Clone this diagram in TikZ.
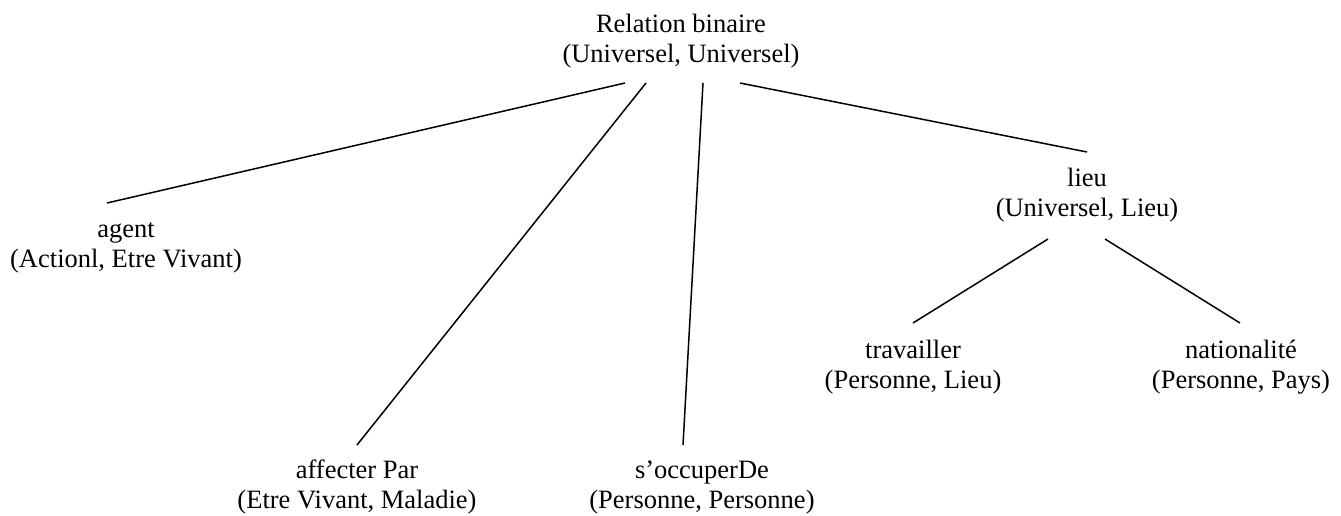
\documentclass[tikz,border=0pt]{standalone}
\usepackage{fontspec}
\setmainfont{Liberation Serif}
\begin{document}
\begin{tikzpicture}[x=1pt,y=-1pt,
  rel/.style={align=center,inner sep=0pt,font=\fontsize{26.5}{30}\selectfont},
  link/.style={line width=1.5pt}]
\useasboundingbox (0,0) rectangle (1341,515);
% relation nodes (struts keep the two lines 30pt apart)
\node[rel] (root) at (681,41) {\strut Relation binaire\\\strut(Universel, Universel)};
\node[rel] (agent) at (126,246) {\strut agent\\\strut(Actionl, Etre Vivant)};
\node[rel] (affect) at (357,487) {\strut affecter Par\\\strut(Etre Vivant, Maladie)};
\node[rel] (occup) at (702,487) {\strut s’occuperDe\\\strut(Personne, Personne)};
\node[rel] (lieu) at (1087,195) {\strut lieu\\\strut(Universel, Lieu)};
\node[rel] (trav) at (913,367) {\strut travailler\\\strut(Personne, Lieu)};
\node[rel] (nat) at (1241,367) {\strut nationalité\\\strut(Personne, Pays)};
% connector ends
\coordinate (rA) at (625,83);
\coordinate (rB) at (646,83);
\coordinate (rC) at (703,83);
\coordinate (rD) at (740,83);
\coordinate (aT) at (107,203);
\coordinate (bT) at (357,445);
\coordinate (cT) at (683,445);
\coordinate (lT) at (1087,152);
\coordinate (lA) at (1048,239);
\coordinate (lB) at (1105,239);
\coordinate (tT) at (913,323);
\coordinate (nT) at (1240,323);
% hierarchy links
\draw[link] (rA) -- (aT);
\draw[link] (rB) -- (bT);
\draw[link] (rC) -- (cT);
\draw[link] (rD) -- (lT);
\draw[link] (lA) -- (tT);
\draw[link] (lB) -- (nT);
\end{tikzpicture}
\end{document}
